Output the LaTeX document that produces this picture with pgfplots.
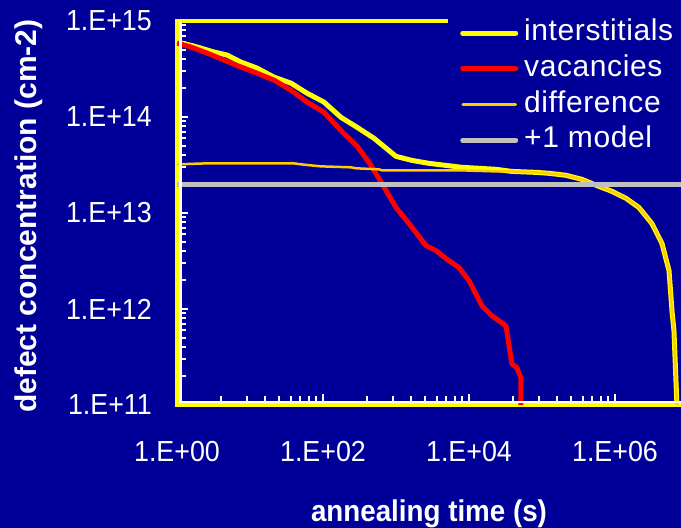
\documentclass[border=0pt]{standalone}
\usepackage{fontspec}
\setmainfont{Liberation Sans}
\newfontfamily\narrowfont{Liberation Sans}[FakeStretch=0.925]
\usepackage{pgfplots}
\pgfplotsset{compat=1.18}
\definecolor{slidebg}{HTML}{000099}
\definecolor{intercol}{HTML}{FFFF00}
\definecolor{vaccol}{HTML}{FF0000}
\definecolor{diffcol}{HTML}{FFCC00}
\definecolor{modelcol}{HTML}{C0C0C0}

\begin{document}
\begin{tikzpicture}[x=1pt,y=1pt]
\useasboundingbox (0,0) rectangle (681,528);
\fill[slidebg] (0,0) rectangle (681,528);
\begin{axis}[
  at={(177pt,123pt)}, anchor=south west,
  scale only axis, width=506pt, height=384pt,
  xmode=log, ymode=log,
  xmin=1, xmax=8.55e6, ymin=1e11, ymax=1e15,
  axis line style={draw=intercol, line width=4pt},
  xtick={1,100,10000,1000000},
  xticklabels={1.E+00,1.E+02,1.E+04,1.E+06},
  ytick={1e11,1e12,1e13,1e14,1e15},
  yticklabels={1.E+11,1.E+12,1.E+13,1.E+14,1.E+15},
  minor xtick={4,9,16,25,36,49,64,81,400,900,1600,2500,3600,4900,6400,8100,
    4e4,9e4,1.6e5,2.5e5,3.6e5,4.9e5,6.4e5,8.1e5},
  minor ytick={2e11,3e11,4e11,5e11,6e11,7e11,8e11,9e11,
    2e12,3e12,4e12,5e12,6e12,7e12,8e12,9e12,
    2e13,3e13,4e13,5e13,6e13,7e13,8e13,9e13,
    2e14,3e14,4e14,5e14,6e14,7e14,8e14,9e14},
  xtick pos=bottom, ytick pos=left,
  tick align=inside,
  major tick length=11pt, minor tick length=9pt,
  every tick/.style={white, line width=2pt},
  xticklabel style={font=\narrowfont\fontsize{29}{30}\selectfont, text=white,
    inner sep=0pt, anchor=base, yshift=-57pt},
  yticklabel style={font=\narrowfont\fontsize{29}{30}\selectfont, text=white,
    inner sep=0pt, anchor=east, xshift=-25pt},
  every axis x label/.style={at={(axis description cs:0.5,0)}, anchor=base,
    xshift=-1pt, yshift=-117pt, font=\narrowfont\bfseries\fontsize{30}{30}\selectfont, text=white},
  every axis y label/.style={at={(axis description cs:-0.292,0.492)}, rotate=90,
    anchor=center, font=\bfseries\fontsize{30}{30}\selectfont, text=white},
  xlabel={annealing time (s)},
  ylabel={defect concentration (cm-2)},
  legend style={at={(axis description cs:0.5356,1.0143)}, anchor=north west,
    fill=slidebg, draw=none, inner xsep=12pt, inner ysep=4pt,
    font=\addfontfeature{LetterSpace=2}\fontsize{30}{30}\selectfont, text=white,
    row sep=8.7pt, column sep=0pt,
    nodes={inner sep=0pt, text height=21pt, text depth=6pt},
    /tikz/every odd column/.append style={column sep=6pt}},
  legend cell align=left,
  legend image code/.code={\draw[#1, line cap=round] (2pt,0pt) -- (55pt,0pt);},
]
% interstitial concentration
\addplot[intercol, line width=5pt, line join=round] coordinates {
  (1,6.04e14) (1.71,5.48e14) (3.21,4.75e14) (4.84,4.42e14) (7.53,3.73e14)
  (12.5,3.23e14) (21.3,2.60e14) (36.5,2.25e14) (60.4,1.77e14) (103,1.43e14)
  (177,9.9e13) (292,7.82e13) (500,6.0e13) (1000,3.89e13) (1656,3.53e13)
  (2831,3.29e13) (4842,3.13e13) (8017,2.99e13) (13700,2.92e13) (23400,2.85e13)
  (38800,2.71e13) (82800,2.65e13) (1.25e5,2.59e13) (2.13e5,2.47e13)
  (3.53e5,2.24e13) (6.04e5,1.89e13) (9.1e5,1.68e13) (1.42e6,1.42e13)
  (2.13e6,1.14e13) (3.21e6,7.76e12) (4.41e6,4.8e12) (5.5e6,2.51e12)
  (6.04e6,9.6e11) (6.43e6,5.93e11) (6.85e6,1.78e11) (7.06e6,1e11)
};
\addlegendentry{interstitials}
% vacancy concentration
\addplot[vaccol, line width=5pt, line join=round] coordinates {
  (1,5.89e14) (1.56,5.35e14) (2.58,4.63e14) (4.4,3.92e14) (7.53,3.31e14)
  (12.5,2.86e14) (21.3,2.42e14) (36.5,1.90e14) (60.4,1.43e14) (103,1.12e14)
  (180,7.1e13) (290,5.0e13) (427,3.37e13) (643,2.03e13) (1000,1.14e13)
  (1507,7.76e12) (2576,4.58e12) (3532,4.06e12) (4842,3.35e12) (7295,2.7e12)
  (10000,1.97e12) (15070,1.08e12) (20650,8.5e11) (32100,6.68e11)
  (38800,2.68e11) (45500,2.43e11) (51500,1.91e11) (51500,1e11)
};
\addlegendentry{vacancies}
% interstitials minus vacancies
\addplot[diffcol, line width=2.5pt, line join=round] coordinates {
  (1,3.21e13) (2.58,3.29e13) (40,3.29e13) (50,3.21e13) (94,3.06e13)
  (242,2.99e13) (283,2.92e13) (585,2.85e13) (643,2.78e13) (8017,2.78e13)
  (23400,2.71e13) (38800,2.71e13) (82800,2.65e13) (1.25e5,2.59e13)
  (2.13e5,2.47e13) (3.53e5,2.24e13) (6.04e5,1.89e13) (9.1e5,1.68e13)
  (1.42e6,1.42e13) (2.13e6,1.14e13) (3.21e6,7.76e12) (4.41e6,4.8e12)
  (5.5e6,2.51e12) (6.04e6,9.6e11) (6.43e6,5.93e11) (6.85e6,1.78e11) (7.06e6,1e11)
};
\addlegendentry{difference}
% +1 model level
\addplot[modelcol, line width=5pt] coordinates {(1,2e13) (8.55e6,2e13)};
\addlegendentry{+1 model}
\end{axis}
% white axis lines just inside the yellow plot-area frame
\draw[white, line width=3pt] (180.5,124.5) -- (180.5,507);
\draw[white, line width=2.5pt] (179,125.75) -- (683,125.75);
\end{tikzpicture}
\end{document}
